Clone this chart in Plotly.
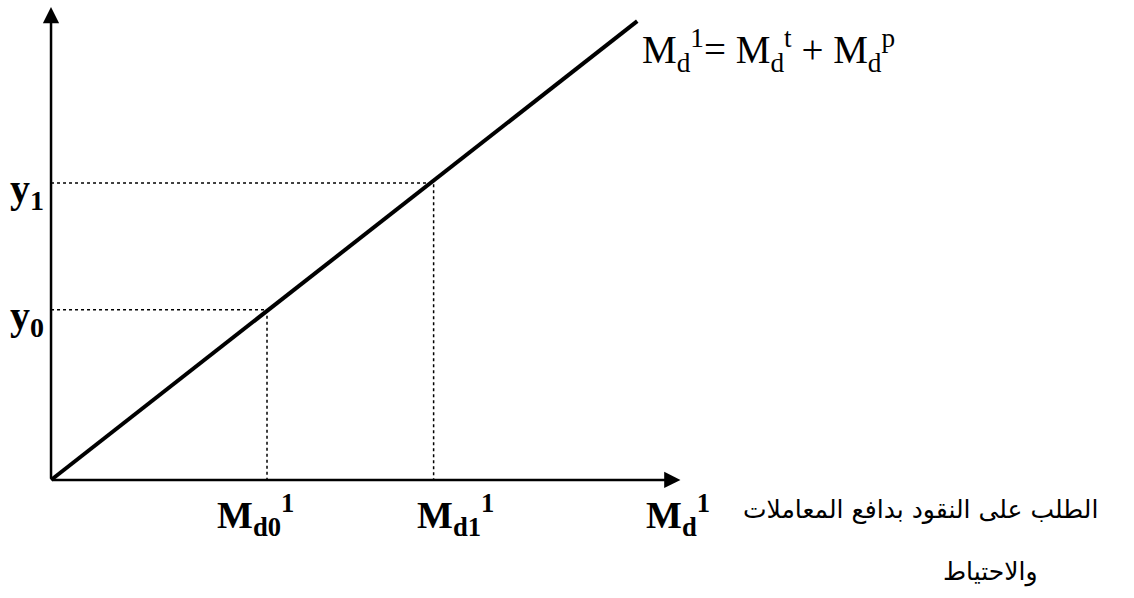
import plotly.graph_objects as go

# Demand for money (transactions + precautionary) as a function of income
line_x = [0, 9.5]           # M_d along the demand line
line_y = [0, 9.7]           # income y along the demand line
md_levels = [3.5, 6.2]      # M_d0, M_d1
y_levels = [3.6, 6.28]      # y0, y1
md_labels = ["M<sub>d0</sub><sup>1</sup>", "M<sub>d1</sub><sup>1</sup>"]
y_labels = ["y<sub>0</sub>", "y<sub>1</sub>"]
axis_end = [10.2, 10]       # arrow tips of the M_d and y axes

SERIF = "Liberation Serif, Times New Roman, serif"
ARABIC = "DejaVu Sans, Noto Sans, sans-serif"

fig = go.Figure()

# dotted guides from each income level to the line and down to the M_d axis
for md, yv in zip(md_levels, y_levels):
    fig.add_trace(go.Scatter(
        x=[0, md, md], y=[yv, yv, 0], mode="lines",
        line=dict(color="black", width=1.5, dash="dot"),
        hoverinfo="skip"))

# demand line
fig.add_trace(go.Scatter(
    x=line_x, y=line_y, mode="lines",
    line=dict(color="black", width=4), hoverinfo="skip"))

annotations = []

# axes with arrowheads
for hx, hy in [(axis_end[0], 0), (0, axis_end[1])]:
    annotations.append(dict(
        x=hx, y=hy, ax=0, ay=0, xref="x", yref="y", axref="x", ayref="y",
        text="", showarrow=True, arrowhead=2, arrowsize=1.3, arrowwidth=2.5,
        arrowcolor="black", standoff=0, startstandoff=0))

# tick-like labels on the M_d axis
for md, lab, dx in zip(md_levels, md_labels, [-52, -19]):
    annotations.append(dict(
        x=md, y=0, text="<b>" + lab + "</b>", showarrow=False,
        xanchor="left", yanchor="top", xshift=dx, yshift=-6,
        font=dict(family=SERIF, size=38, color="black")))

# labels on the income axis
for yv, lab in zip(y_levels, y_labels):
    annotations.append(dict(
        x=0, y=yv, text="<b>" + lab + "</b>", showarrow=False,
        xanchor="right", yanchor="middle", xshift=-5, yshift=-8,
        font=dict(family=SERIF, size=40, color="black")))

# axis title for M_d
annotations.append(dict(
    x=axis_end[0], y=0, text="<b>M<sub>d</sub><sup>1</sup></b>", showarrow=False,
    xanchor="left", yanchor="top", xshift=-36, yshift=-6,
    font=dict(family=SERIF, size=38, color="black")))

# equation of the demand line
annotations.append(dict(
    x=line_x[1], y=line_y[1], text="M<sub>d</sub><sup>1</sup>= M<sub>d</sub><sup>t</sup> + M<sub>d</sub><sup>p</sup>",
    showarrow=False, xanchor="left", yanchor="top", xshift=3, yshift=0,
    font=dict(family=SERIF, size=39, color="black")))

# Arabic caption next to the M_d axis
annotations.append(dict(
    x=1100, y=510, xref="paper", yref="paper", text="الطلب على النقود بدافع المعاملات",
    showarrow=False, xanchor="right", yanchor="middle",
    font=dict(family=ARABIC, size=25, color="black")))
annotations.append(dict(
    x=1040, y=572, xref="paper", yref="paper", text="والاحتياط",
    showarrow=False, xanchor="right", yanchor="middle",
    font=dict(family=ARABIC, size=25, color="black")))

W, H = 1134, 598
# convert the caption's pixel anchors to paper coordinates
for a in annotations[-2:]:
    a["x"] = a["x"] / W
    a["y"] = 1 - a["y"] / H

fig.update_layout(
    width=W, height=H, margin=dict(l=0, r=0, t=0, b=0),
    paper_bgcolor="white", plot_bgcolor="white", showlegend=False,
    xaxis=dict(range=[-0.827, 17.55], visible=False, fixedrange=True),
    yaxis=dict(range=[-2.495, 10.148], visible=False, fixedrange=True),
    annotations=annotations)

fig.write_html("out.html")
